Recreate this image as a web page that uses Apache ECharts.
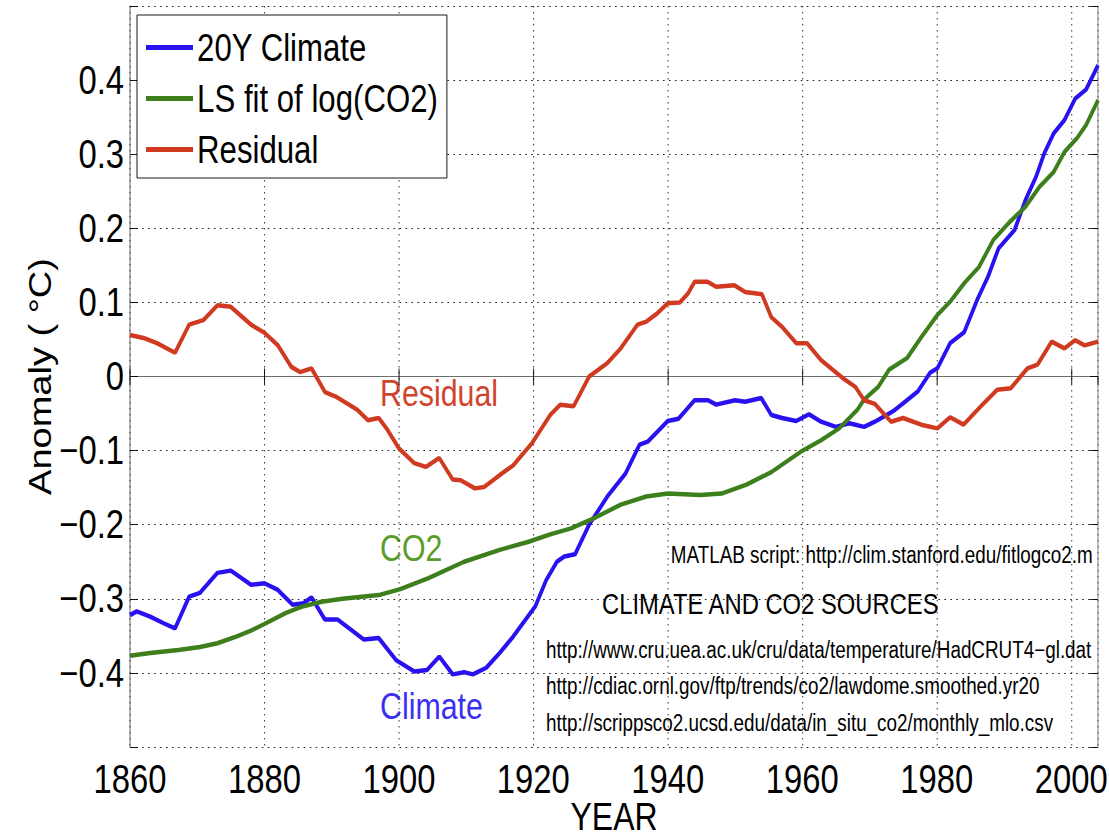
<!DOCTYPE html>
<html>
<head>
<meta charset="utf-8">
<script src="https://cdn.jsdelivr.net/npm/echarts@6/dist/echarts.min.js"></script>
<style>
  html, body { margin: 0; padding: 0; background: #fff; overflow: hidden; }
  /* the original figure is squeezed sideways, so draw wider and squeeze */
  #chart { width: 1352px; height: 838px; transform: scaleX(0.8203); transform-origin: 0 0; }
</style>
</head>
<body>
<div id="chart"></div>
<script>
// values
const climateYears = [1860, 1861, 1863, 1865, 1866.7, 1868.8, 1870.4, 1873, 1875, 1878, 1880, 1882, 1884.2, 1885.8, 1887, 1889, 1890.9, 1894.8, 1897, 1899.6, 1902.3, 1904.2, 1906, 1908, 1909.7, 1911, 1913, 1915, 1917, 1920.3, 1921.9, 1923.5, 1924.6, 1926.2, 1928.3, 1931, 1933.7, 1935.8, 1937, 1940, 1941.6, 1944, 1946, 1947.2, 1950, 1951.5, 1953.9, 1955.4, 1957, 1959.1, 1961, 1962.8, 1965, 1967, 1969.2, 1970.8, 1973.5, 1975.6, 1977.2, 1979, 1980.1, 1982, 1984.1, 1986, 1987.6, 1989.2, 1991.6, 1993.2, 1994.8, 1996, 1997.4, 1999, 2000.6, 2002.2, 2004];
const climateVals = [-0.322, -0.317, -0.324, -0.333, -0.340, -0.297, -0.292, -0.265, -0.262, -0.281, -0.279, -0.288, -0.308, -0.306, -0.298, -0.328, -0.328, -0.355, -0.353, -0.383, -0.398, -0.396, -0.378, -0.402, -0.399, -0.402, -0.393, -0.373, -0.351, -0.310, -0.275, -0.250, -0.243, -0.240, -0.200, -0.162, -0.131, -0.092, -0.088, -0.060, -0.057, -0.032, -0.032, -0.038, -0.032, -0.034, -0.029, -0.052, -0.056, -0.060, -0.051, -0.061, -0.068, -0.063, -0.068, -0.061, -0.047, -0.032, -0.020, 0.005, 0.011, 0.045, 0.060, 0.103, 0.134, 0.173, 0.198, 0.238, 0.270, 0.301, 0.328, 0.346, 0.375, 0.387, 0.420];

const co2Years = [1860, 1863, 1867.2, 1870.4, 1873, 1875.8, 1878, 1880, 1883.2, 1885.8, 1888.5, 1891.6, 1897, 1900.2, 1904.4, 1909.7, 1915, 1919.3, 1922.5, 1925.6, 1929.3, 1933, 1936.8, 1940, 1944.8, 1948, 1951.7, 1955.4, 1959.7, 1962.8, 1965.5, 1968.2, 1969.2, 1971.3, 1972.9, 1975.6, 1977.7, 1980.1, 1982, 1984.1, 1986.3, 1988.4, 1990.8, 1993.2, 1995.3, 1997.4, 1999, 2000.9, 2002.2, 2004];
const co2Vals = [-0.377, -0.373, -0.369, -0.365, -0.360, -0.351, -0.343, -0.334, -0.319, -0.310, -0.304, -0.300, -0.295, -0.287, -0.272, -0.250, -0.234, -0.223, -0.213, -0.205, -0.190, -0.173, -0.162, -0.158, -0.160, -0.158, -0.146, -0.129, -0.102, -0.086, -0.070, -0.045, -0.031, -0.014, 0.009, 0.025, 0.053, 0.083, 0.101, 0.126, 0.148, 0.184, 0.208, 0.229, 0.256, 0.276, 0.303, 0.322, 0.339, 0.373];

const residYears = [1860, 1862, 1864, 1866.7, 1868.8, 1870.9, 1873, 1875, 1878, 1880, 1882, 1884, 1885.3, 1887, 1889, 1890.6, 1893.8, 1895.4, 1897, 1898.3, 1900, 1902.3, 1904, 1906, 1908, 1909.2, 1911.3, 1912.7, 1915, 1917, 1919.8, 1922.5, 1924, 1926, 1928.3, 1931, 1933, 1935.5, 1936.8, 1938.4, 1940, 1941.8, 1943, 1944, 1945.9, 1947.2, 1949.9, 1951.5, 1954, 1955.4, 1957, 1959.1, 1960.7, 1962.8, 1966, 1967.9, 1969.2, 1970.8, 1973.2, 1975, 1977.7, 1980.1, 1982, 1984, 1986.8, 1989, 1991, 1993.5, 1995, 1997.1, 1999, 2000.6, 2002, 2004];
const residVals = [0.056, 0.052, 0.045, 0.032, 0.070, 0.076, 0.096, 0.094, 0.070, 0.059, 0.042, 0.013, 0.006, 0.011, -0.021, -0.027, -0.045, -0.059, -0.056, -0.072, -0.097, -0.117, -0.122, -0.110, -0.139, -0.140, -0.151, -0.149, -0.133, -0.120, -0.090, -0.052, -0.038, -0.040, 0.000, 0.018, 0.038, 0.070, 0.074, 0.085, 0.099, 0.100, 0.112, 0.128, 0.128, 0.121, 0.123, 0.114, 0.111, 0.080, 0.067, 0.045, 0.045, 0.022, -0.002, -0.014, -0.032, -0.037, -0.061, -0.056, -0.065, -0.070, -0.055, -0.065, -0.038, -0.018, -0.016, 0.011, 0.016, 0.047, 0.038, 0.049, 0.042, 0.047];

const seriesNames = ['20Y Climate', 'LS fit of log(CO2)', 'Residual'];
const sourceLines = [
  'http://www.cru.uea.ac.uk/cru/data/temperature/HadCRUT4\u2212gl.dat',
  'http://cdiac.ornl.gov/ftp/trends/co2/lawdome.smoothed.yr20',
  'http://scrippsco2.ucsd.edu/data/in_situ_co2/monthly_mlo.csv'
];

const BLUE = '#2a12f0';
const GREEN = '#3d7e1d';
const RED = '#d03a21';
const FONT = "'Liberation Sans', Arial, sans-serif";
const SX = 0.8203; // horizontal squeeze of the container
const px = v => v / SX; // page px -> chart px along x

const pairs = (xs, ys) => xs.map((x, i) => [x, ys[i]]);

const myChart = echarts.init(document.getElementById('chart'), null, { renderer: 'svg' });

const lineSeries = (name, color, data) => ({
  name, type: 'line', showSymbol: false, symbol: 'none',
  lineStyle: { color, width: 4.5 }, itemStyle: { color },
  data
});

const option = {
  backgroundColor: '#fff',
  animation: false,
  grid: { left: px(130), right: px(11), top: 6, bottom: 91, outerBoundsMode: 'none' },
  legend: {
    orient: 'vertical',
    left: px(137),
    top: 15,
    padding: [12, px(9), 8, px(9)],
    itemGap: 10,
    itemWidth: px(47),
    itemHeight: 5,
    icon: 'rect',
    borderColor: '#000',
    borderWidth: 1,
    backgroundColor: '#fff',
    data: seriesNames,
    textStyle: { fontFamily: FONT, fontSize: 38, lineHeight: 41, color: '#000' }
  },
  xAxis: [
    {
      type: 'value', min: 1860, max: 2004, interval: 20,
      name: 'YEAR', nameLocation: 'middle', nameGap: 50, nameMoveOverlap: false,
      nameTextStyle: { fontFamily: FONT, fontSize: 39, color: '#000' },
      axisLine: { show: true, lineStyle: { color: '#000', width: 1 } },
      axisTick: { show: true, inside: true, length: 8, lineStyle: { color: '#000' } },
      axisLabel: {
        margin: 12, fontFamily: FONT, fontSize: 40, color: '#000',
        showMaxLabel: false,
        formatter: v => (v % 20 === 0 ? String(v) : '')
      },
      splitLine: { show: true, lineStyle: { color: '#222', type: [1.5, 4.5], width: 1 } }
    },
    {
      type: 'value', min: 1860, max: 2004, interval: 20, position: 'top',
      axisLine: { show: true, lineStyle: { color: '#777', width: 1 } },
      axisTick: { show: true, inside: true, length: 8, lineStyle: { color: '#000' } },
      axisLabel: { show: false },
      splitLine: { show: false }
    }
  ],
  yAxis: [
    {
      type: 'value', min: -0.5, max: 0.5, interval: 0.1,
      name: 'Anomaly ( \u00b0C)', nameLocation: 'middle', nameGap: px(74), nameMoveOverlap: false,
      nameTextStyle: { fontFamily: FONT, fontSize: 38, color: '#000' },
      axisLine: { show: true, lineStyle: { color: '#555', width: 1 } },
      axisTick: { show: true, inside: true, length: px(8), lineStyle: { color: '#000' } },
      axisLabel: {
        margin: px(6), fontFamily: FONT, fontSize: 40, color: '#000',
        formatter: v => {
          if (Math.abs(v) > 0.45) return '';
          if (Math.abs(v) < 1e-9) return '0';
          return v.toFixed(1).replace('-', '\u2212');
        }
      },
      splitLine: { show: true, lineStyle: { color: '#222', type: [2, 5.3], width: 1.2 } }
    },
    {
      type: 'value', min: -0.5, max: 0.5, interval: 0.1, position: 'right',
      axisLine: { show: true, lineStyle: { color: '#777', width: 1 } },
      axisTick: { show: true, inside: true, length: px(8), lineStyle: { color: '#000' } },
      axisLabel: { show: false },
      splitLine: { show: false }
    }
  ],
  series: [
    lineSeries(seriesNames[0], BLUE, pairs(climateYears, climateVals)),
    lineSeries(seriesNames[1], GREEN, pairs(co2Years, co2Vals)),
    lineSeries(seriesNames[2], RED, pairs(residYears, residVals))
  ],
  graphic: [
    { type: 'text', left: px(380), top: 374, style: { text: 'Residual', fill: '#d2432e', font: '37px ' + FONT } },
    { type: 'text', left: px(380), top: 529, style: { text: 'CO2', fill: '#5a9c2a', font: '37px ' + FONT } },
    { type: 'text', left: px(380), top: 687, style: { text: 'Climate', fill: '#3b2ff0', font: '37px ' + FONT } },
    { type: 'text', right: px(16), top: 543, style: { text: 'MATLAB script: http://clim.stanford.edu/fitlogco2.m', fill: '#000', font: '23px ' + FONT } },
    { type: 'text', left: px(602), top: 590, style: { text: 'CLIMATE AND CO2 SOURCES', fill: '#000', font: '29px ' + FONT } },
    { type: 'text', left: px(546), top: 638, style: { text: sourceLines[0], fill: '#000', font: '23px ' + FONT } },
    { type: 'text', left: px(546), top: 674, style: { text: sourceLines[1], fill: '#000', font: '23px ' + FONT } },
    { type: 'text', left: px(546), top: 711, style: { text: sourceLines[2], fill: '#000', font: '23px ' + FONT } }
  ]
};

option && myChart.setOption(option);
</script>
</body>
</html>
